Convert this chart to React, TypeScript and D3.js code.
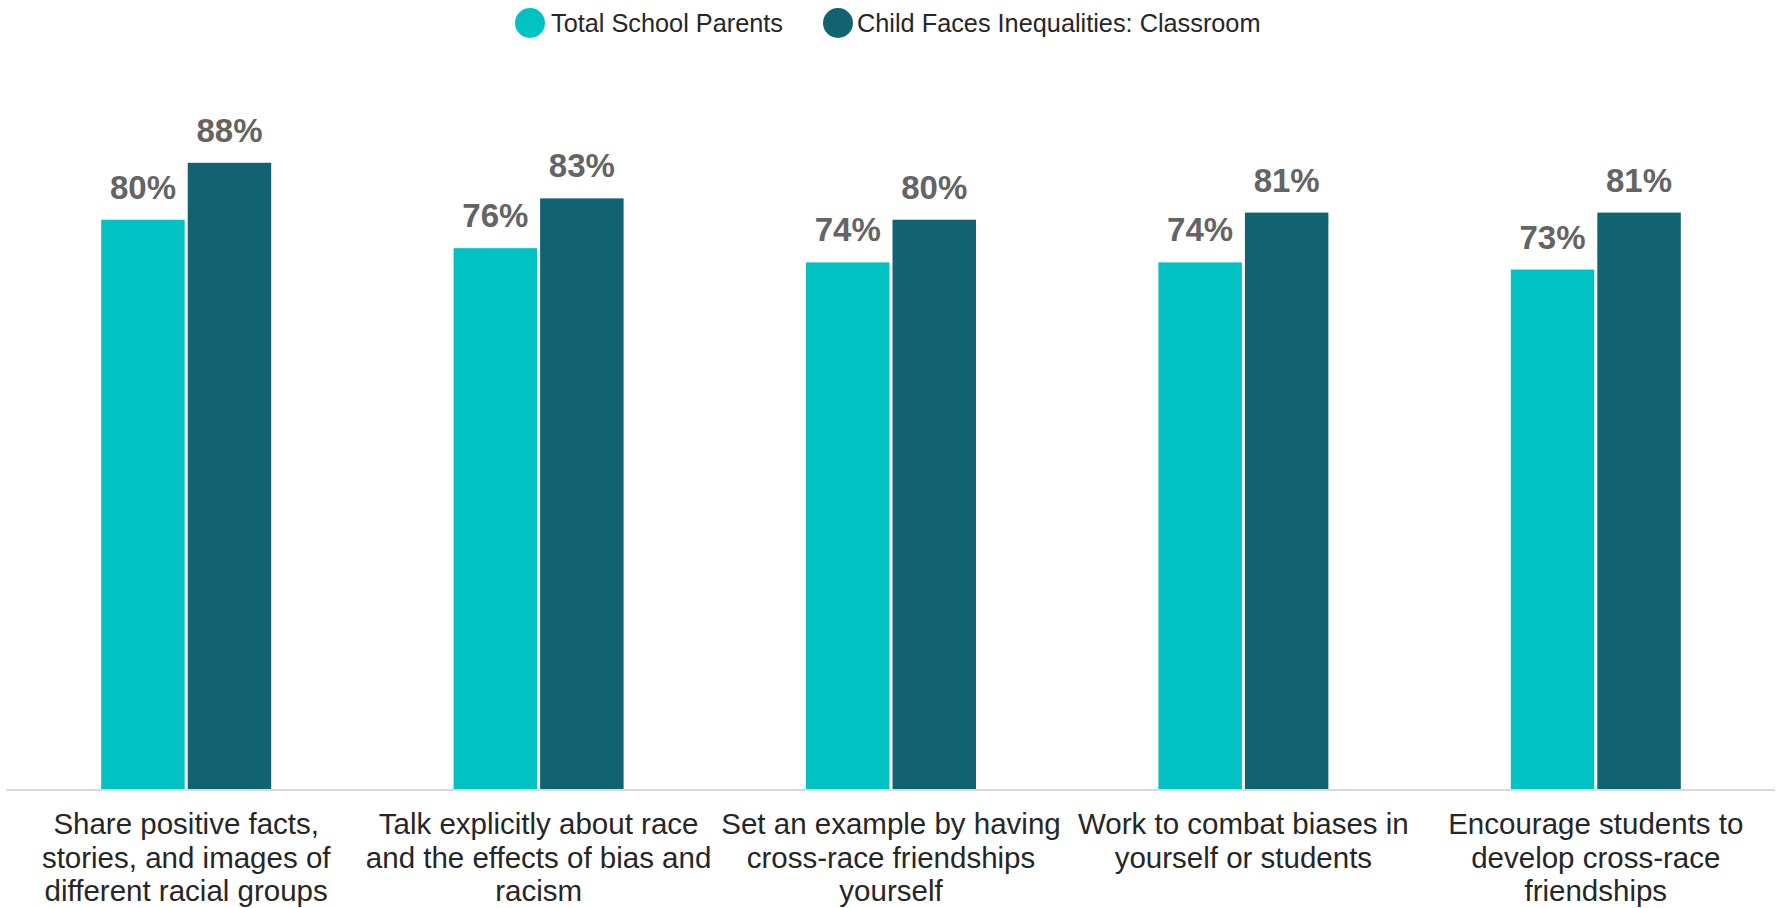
import React from "react";
import * as d3 from "d3";

const categories: string[][] = [
  ["Share positive facts,", "stories, and images of", "different racial groups"],
  ["Talk explicitly about race", "and the effects of bias and", "racism"],
  ["Set an example by having", "cross-race friendships", "yourself"],
  ["Work to combat biases in", "yourself or students"],
  ["Encourage students to", "develop cross-race", "friendships"],
];
const seriesNames = ["Total School Parents", "Child Faces Inequalities: Classroom"];
const totalSchoolParents = [80, 76, 74, 74, 73];
const childFacesInequalities = [88, 83, 80, 81, 81];
const seriesValues = [totalSchoolParents, childFacesInequalities];
const colors = ["#00C2C2", "#126372"];

const W = 1785;
const H = 908;

export default function App() {
  const x0 = d3.scaleBand<number>().domain(d3.range(categories.length)).range([10, 1772]).padding(0);
  const x1 = d3.scaleBand<number>().domain([0, 1]).range([-85, 85]).paddingInner(0.035);
  const y = d3.scaleLinear().domain([0, 100]).range([789, 77.4]);
  const font = "'Liberation Sans', Arial, sans-serif";

  return (
    <svg width={W} height={H} style={{ position: "absolute", left: 0, top: 0, background: "#fff" }}>
      {/* legend */}
      <g fontFamily={font} fontSize={25.3} fill="#262626">
        <circle cx={530} cy={23} r={15} fill={colors[0]} />
        <text x={551} y={32}>{seriesNames[0]}</text>
        <circle cx={838} cy={23} r={15} fill={colors[1]} />
        <text x={857} y={32}>{seriesNames[1]}</text>
      </g>
      {/* bars */}
      {categories.map((c, i) => {
        const cx = (x0(i) as number) + x0.bandwidth() / 2;
        return (
          <g key={i}>
            {seriesValues.map((vals, s) => {
              const bx = cx + (x1(s) as number);
              const bw = x1.bandwidth();
              return (
                <g key={s}>
                  <rect x={bx} y={y(vals[i])} width={bw} height={y(0) - y(vals[i])} fill={colors[s]} />
                  <text
                    x={bx + bw / 2}
                    y={y(vals[i]) - 21}
                    textAnchor="middle"
                    fontFamily={font}
                    fontWeight="bold"
                    fontSize={33}
                    fill="#646464"
                  >
                    {vals[i]}%
                  </text>
                </g>
              );
            })}
          </g>
        );
      })}
      {/* axis line */}
      <line x1={6} x2={1775} y1={790} y2={790} stroke="#d9d9d9" strokeWidth={2} />
      {/* category labels */}
      {categories.map((lines, i) => {
        const cx = (x0(i) as number) + x0.bandwidth() / 2;
        return (
          <text key={i} textAnchor="middle" fontFamily={font} fontSize={29.5} fill="#262626">
            {lines.map((l, k) => (
              <tspan key={k} x={cx} y={834 + k * 33.6}>
                {l}
              </tspan>
            ))}
          </text>
        );
      })}
    </svg>
  );
}
